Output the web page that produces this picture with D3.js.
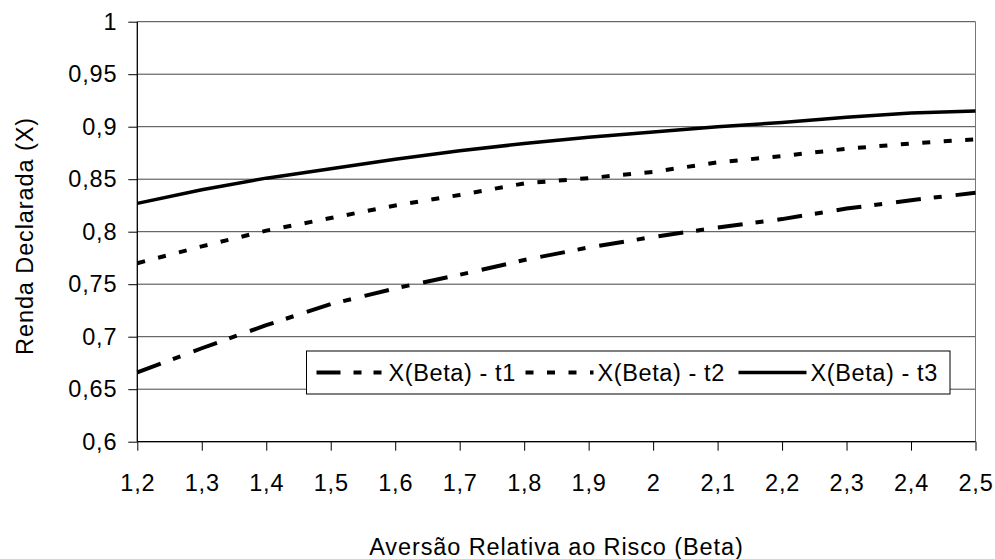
<!DOCTYPE html>
<html>
<head>
<meta charset="utf-8">
<title>Renda Declarada</title>
<script src="https://d3js.org/d3.v7.min.js"></script>
<style>
  body { margin: 0; background: #fff; }
  text { font-family: "Liberation Sans", Arial, sans-serif; fill: #000; }
</style>
</head>
<body>
<div id="chart"></div>
<script>
// data
var betas = [1.2, 1.3, 1.4, 1.5, 1.6, 1.7, 1.8, 1.9, 2.0, 2.1, 2.2, 2.3, 2.4, 2.5];
var xT1 = [0.666, 0.689, 0.711, 0.731, 0.746, 0.759, 0.773, 0.785, 0.795, 0.804, 0.812, 0.822, 0.830, 0.837];
var xT2 = [0.770, 0.786, 0.801, 0.813, 0.825, 0.835, 0.846, 0.851, 0.857, 0.866, 0.872, 0.879, 0.884, 0.888];
var xT3 = [0.827, 0.840, 0.851, 0.860, 0.869, 0.877, 0.884, 0.890, 0.895, 0.900, 0.904, 0.909, 0.913, 0.915];
var seriesNames = ["X(Beta) - t1", "X(Beta) - t2", "X(Beta) - t3"];
var yTicks = [0.6, 0.65, 0.7, 0.75, 0.8, 0.85, 0.9, 0.95, 1];

const width = 995, height = 559,
      margin = {top: 21.7, right: 19.5, bottom: 117.3, left: 137.3};

var pt = d3.formatLocale({decimal: ",", thousands: ".", grouping: [3], currency: ["", ""]});
var fmt = pt.format("~g");

var svg = d3.select("#chart").append("svg")
  .attr("width", width)
  .attr("height", height);

var x = d3.scaleLinear()
  .domain([1.2, 2.5])
  .range([margin.left, width - margin.right]);
var y = d3.scaleLinear()
  .domain([0.6, 1])
  .range([height - margin.bottom, margin.top]);

// gridlines
svg.append("g")
  .selectAll("line")
  .data(yTicks)
  .enter().append("line")
  .attr("x1", x(1.2)).attr("x2", x(2.5))
  .attr("y1", d => y(d)).attr("y2", d => y(d))
  .attr("stroke", "#444").attr("stroke-width", 1);

// right border of plot area
svg.append("line")
  .attr("x1", x(2.5)).attr("x2", x(2.5))
  .attr("y1", y(1)).attr("y2", y(0.6))
  .attr("stroke", "#777").attr("stroke-width", 1);

// axes
var xAxis = svg.append("g")
  .attr("transform", `translate(0, ${y(0.6)})`)
  .call(d3.axisBottom(x).tickValues(betas).tickFormat(fmt).tickSize(9).tickPadding(24));
var yAxis = svg.append("g")
  .attr("transform", `translate(${x(1.2)}, 0)`)
  .call(d3.axisLeft(y).tickValues(yTicks).tickFormat(fmt).tickSize(9).tickPadding(11));

[xAxis, yAxis].forEach(function(g) {
  g.select(".domain").attr("stroke", "#000").attr("stroke-width", 1.3);
  g.selectAll(".tick line").attr("stroke", "#000");
  g.selectAll(".tick text")
    .style("font-family", "'Liberation Sans', Arial, sans-serif")
    .style("font-size", "23.5px")
    .style("letter-spacing", "0.8px")
    .attr("fill", "#000");
});
xAxis.select(".domain").attr("d", `M${x(1.2)},0H${x(2.5)}`);
yAxis.select(".domain").attr("d", `M0,${y(0.6)}V${y(1)}`);

// lines
var styles = [
  {values: xT1, dash: "25,13,8,14", w: 4},
  {values: xT2, dash: "8,13.5", w: 4},
  {values: xT3, dash: null, w: 3.5}
];
var line = d3.line()
  .x((d, i) => x(betas[i]))
  .y(d => y(d));

styles.forEach(function(s) {
  svg.append("path")
    .datum(s.values)
    .attr("fill", "none")
    .attr("stroke", "#000")
    .attr("stroke-width", s.w)
    .attr("stroke-dasharray", s.dash)
    .attr("d", line);
});

// legend
var lg = svg.append("g").attr("transform", "translate(306.5, 351)");
lg.append("rect")
  .attr("width", 643.5).attr("height", 43)
  .attr("fill", "#fff").attr("stroke", "#000").attr("stroke-width", 1);
var entryX = [10, 219, 432];
seriesNames.forEach(function(n, i) {
  var e = lg.append("g").attr("transform", `translate(${entryX[i]}, 21.5)`);
  e.append("line")
    .attr("x1", 0).attr("x2", 68)
    .attr("stroke", "#000")
    .attr("stroke-width", styles[i].w)
    .attr("stroke-dasharray", i === 0 ? "24,13,8,12,8,12" : styles[i].dash);
  e.append("text")
    .attr("x", 72).attr("y", 8.5)
    .style("font-size", "23.5px")
    .style("letter-spacing", "0.6px")
    .text(n);
});

// axis titles
svg.append("text")
  .attr("x", (x(1.2) + x(2.5)) / 2)
  .attr("y", 555)
  .attr("text-anchor", "middle")
  .style("font-size", "23.5px")
  .style("letter-spacing", "0.9px")
  .text("Aversão Relativa ao Risco (Beta)");

svg.append("text")
  .attr("transform", `translate(32.5, 236) rotate(-90)`)
  .attr("text-anchor", "middle")
  .style("font-size", "23.5px")
  .style("letter-spacing", "0.9px")
  .text("Renda Declarada (X)");
</script>
</body>
</html>
